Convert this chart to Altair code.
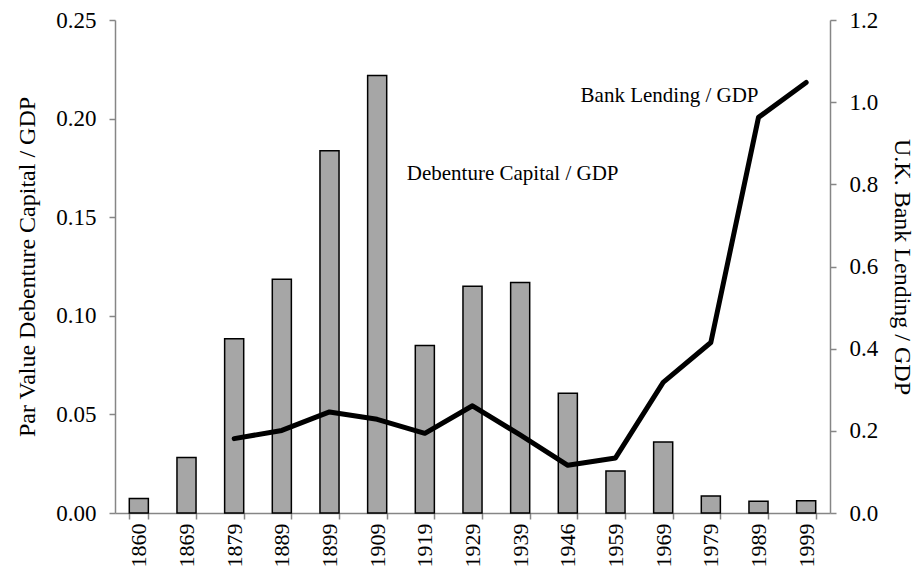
import altair as alt
import pandas as pd

years = ["1860", "1869", "1879", "1889", "1899", "1909", "1919", "1929",
         "1939", "1946", "1959", "1969", "1979", "1989", "1999"]
debenture = [0.0073, 0.0281, 0.0884, 0.1185, 0.1837, 0.2219, 0.0850, 0.1150,
             0.1169, 0.0607, 0.0213, 0.0360, 0.0086, 0.0060, 0.0062]
line_years = ["1879", "1889", "1899", "1909", "1919", "1929", "1939", "1946",
              "1959", "1969", "1979", "1989", "1999"]
bank_lending = [0.181, 0.201, 0.246, 0.228, 0.194, 0.261, 0.190, 0.116,
                0.134, 0.318, 0.415, 0.963, 1.048]

bar_label = pd.DataFrame({"year": ["1959"], "v": [0.172], "t": ["Debenture Capital / GDP"]})
line_label = pd.DataFrame({"year": ["1989"], "v": [1.015], "t": ["Bank Lending / GDP"]})

bars_df = pd.DataFrame({"year": years, "v": debenture})
line_df = pd.DataFrame({"year": line_years, "v": bank_lending})

FONT = "Liberation Serif"
xscale = alt.Scale(domain=years, paddingInner=0.6, paddingOuter=0.3)
xenc = alt.X("year:N", scale=xscale, sort=years,
             axis=alt.Axis(title=None, labelAngle=-90, tickBand="extent",
                           labelFontSize=22, labelPadding=4))

yl = alt.Scale(domain=[0, 0.25], nice=False)
yr = alt.Scale(domain=[0, 1.2], nice=False)

bars = alt.Chart(bars_df).mark_bar(color="#a6a6a6", stroke="black", strokeWidth=1.5).encode(
    x=xenc,
    y=alt.Y("v:Q", scale=yl,
            axis=alt.Axis(title="Par Value Debenture Capital / GDP", values=[0, 0.05, 0.1, 0.15, 0.2, 0.25],
                          format=".2f", orient="left", labelPadding=13, titlePadding=16))
)
bar_text = alt.Chart(bar_label).mark_text(align="right", baseline="middle", font=FONT,
                                          fontSize=21, color="black", dx=3).encode(
    x=alt.X("year:N", scale=xscale, sort=years),
    y=alt.Y("v:Q", scale=yl),
    text="t:N"
)
left = alt.layer(bars, bar_text)

line = alt.Chart(line_df).mark_line(color="black", strokeWidth=5, strokeCap="round",
                                     strokeJoin="round").encode(
    x=alt.X("year:N", scale=xscale, sort=years),
    y=alt.Y("v:Q", scale=yr,
            axis=alt.Axis(title="U.K. Bank Lending / GDP", values=[0, 0.2, 0.4, 0.6, 0.8, 1.0, 1.2],
                          format=".1f", orient="right", labelPadding=13, titlePadding=12))
)
line_text = alt.Chart(line_label).mark_text(align="right", baseline="middle", font=FONT,
                                            fontSize=21, color="black").encode(
    x=alt.X("year:N", scale=xscale, sort=years),
    y=alt.Y("v:Q", scale=yr),
    text="t:N"
)
right = alt.layer(line, line_text)

chart = alt.layer(left, right).resolve_scale(y="independent").properties(
    width=715, height=493,
    autosize=alt.AutoSizeParams(type="none"),
    padding={"left": 107, "top": 12, "right": 85, "bottom": 58},
    background="white",
).configure_view(stroke=None).configure_axis(
    grid=False, domainColor="#868686", tickColor="#868686", domainWidth=1.5, tickWidth=1.5,
    tickSize=6, labelColor="black", labelFont=FONT, labelFontSize=23,
    titleFont=FONT, titleFontSize=24, titleFontWeight="normal", titleColor="black"
)

chart.save("out.html", embed_options={"renderer": "svg", "actions": False})
